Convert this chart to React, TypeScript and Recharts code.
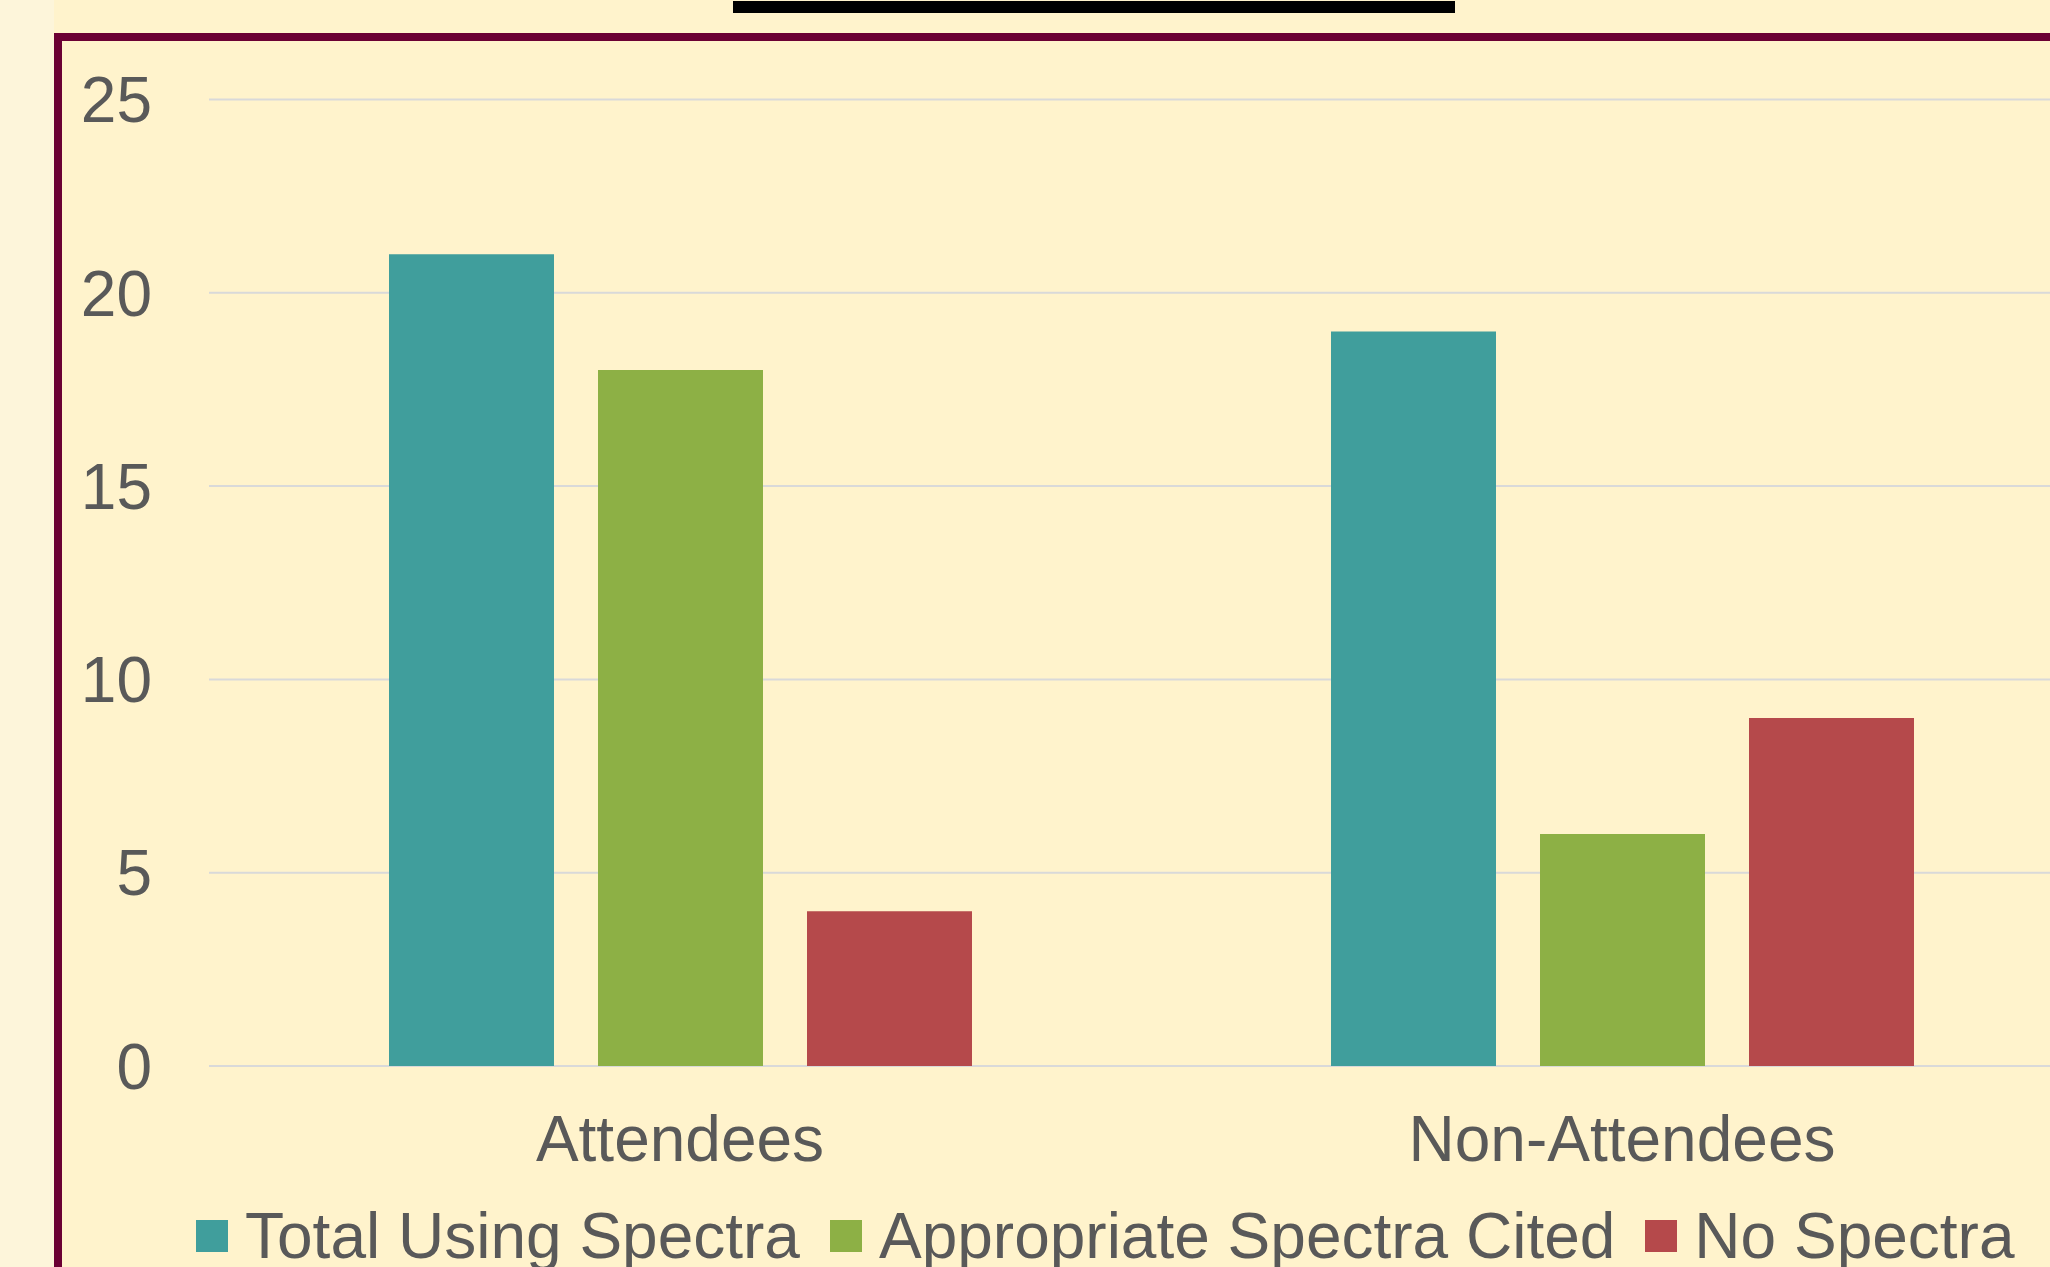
import { Bar, BarChart, CartesianGrid, Legend, XAxis, YAxis } from 'recharts'

const categories = ['Attendees', 'Non-Attendees']
const totalUsingSpectra = [21, 19]
const appropriateSpectraCited = [18, 6]
const noSpectra = [4, 9]
const yTicks = [0, 5, 10, 15, 20, 25]

const seriesNames = ['Total Using Spectra', 'Appropriate Spectra Cited', 'No Spectra']
const seriesColors = ['#409e9c', '#8db045', '#b5494b']

const chartData = categories.map((name, i) => ({
  name,
  total: totalUsingSpectra[i],
  appropriate: appropriateSpectraCited[i],
  none: noSpectra[i],
}))

const font = '"Liberation Sans", Arial, sans-serif'
const textColor = '#595959'

function LegendContent() {
  return (
    <div
      style={{
        display: 'flex',
        alignItems: 'center',
        height: 72,
        fontFamily: font,
        fontSize: 64,
        lineHeight: '72px',
        color: textColor,
        whiteSpace: 'nowrap',
      }}
    >
      {seriesNames.map((label, i) => (
        <div key={label} style={{ display: 'flex', alignItems: 'center', marginRight: 30 }}>
          <span
            style={{
              width: 32,
              height: 32,
              background: seriesColors[i],
              marginRight: 17,
              display: 'inline-block',
            }}
          />
          <span>{label}</span>
        </div>
      ))}
    </div>
  )
}

export default function App() {
  return (
    <div
      style={{
        position: 'absolute',
        left: 0,
        top: 0,
        width: 2050,
        height: 1267,
        overflow: 'hidden',
        background: 'linear-gradient(90deg, #fdf5da 0px, #fdf5da 54px, #fff3cc 54px)',
        fontFamily: font,
      }}
    >
      {/* underline of the (cut off) title */}
      <div
        style={{
          position: 'absolute',
          left: 733,
          top: 1,
          width: 722,
          height: 12,
          background: '#000',
        }}
      />
      {/* frame */}
      <div
        style={{
          position: 'absolute',
          left: 54,
          top: 33,
          width: 2200,
          height: 1400,
          boxSizing: 'border-box',
          border: '8px solid #6b0033',
          background: '#fff3cc',
        }}
      />
      <div style={{ position: 'absolute', left: 0, top: 0 }}>
        <BarChart
          width={2093}
          height={1267}
          data={chartData}
          margin={{ top: 99.5, right: 0, bottom: 0, left: 0 }}
          barCategoryGap={180}
          barGap={44}
        >
          <CartesianGrid vertical={false} stroke='#d9d9d9' strokeWidth={2} />
          <XAxis
            dataKey='name'
            height={129}
            axisLine={false}
            tickLine={false}
            tickSize={0}
            tickMargin={50}
            tick={{ fill: textColor, fontSize: 64, fontFamily: font }}
          />
          <YAxis
            width={209}
            domain={[0, 25]}
            ticks={yTicks}
            axisLine={false}
            tickLine={false}
            tickSize={0}
            tickMargin={57}
            tick={{ fill: textColor, fontSize: 64, fontFamily: font }}
          />
          <Legend
            content={<LegendContent />}
            wrapperStyle={{ left: 196, top: 1200, width: 1900, height: 72 }}
          />
          <Bar dataKey='total' name={seriesNames[0]} fill={seriesColors[0]} isAnimationActive={false} />
          <Bar dataKey='appropriate' name={seriesNames[1]} fill={seriesColors[1]} isAnimationActive={false} />
          <Bar dataKey='none' name={seriesNames[2]} fill={seriesColors[2]} isAnimationActive={false} />
        </BarChart>
      </div>
    </div>
  )
}
